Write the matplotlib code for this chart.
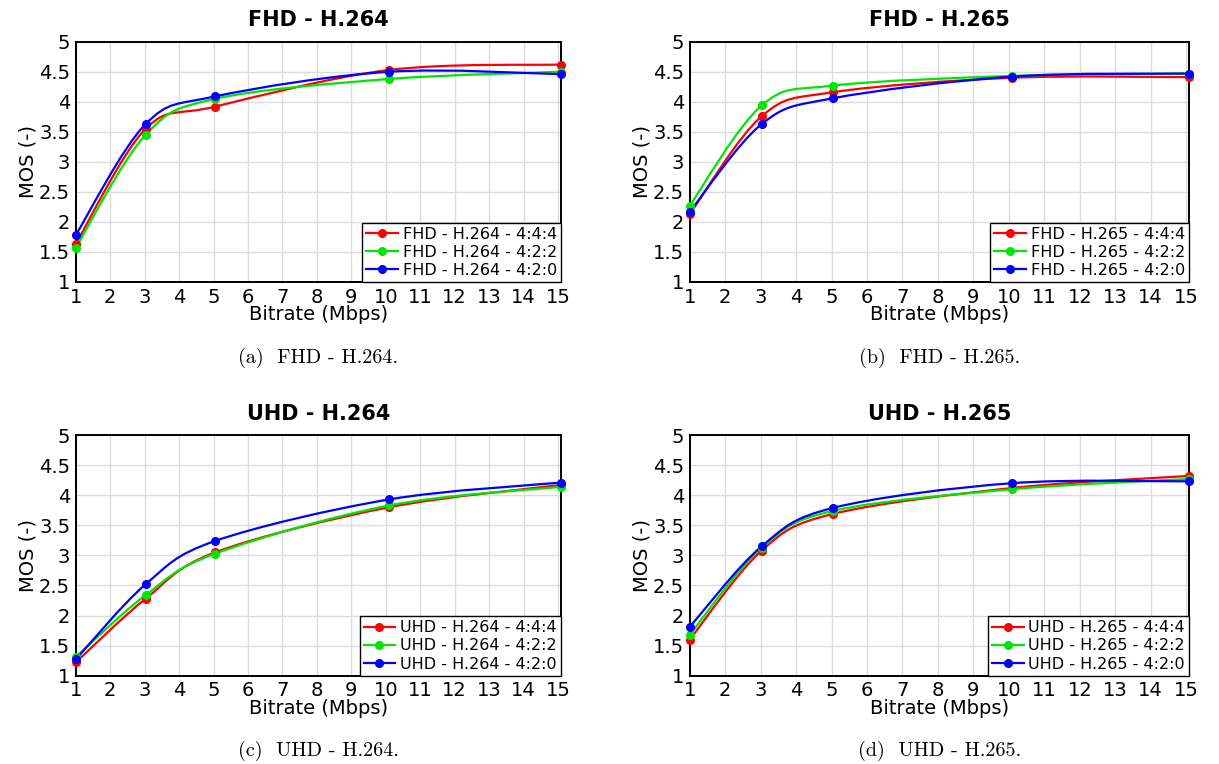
import numpy as np
import matplotlib.pyplot as plt
from matplotlib.path import Path
from matplotlib.patches import PathPatch
from matplotlib.lines import Line2D

plt.rcParams['font.family'] = 'DejaVu Sans'

# bitrate (Mbps)
bitrate = [1, 3.03, 5.05, 10.1, 15.08]
formats = ['4:4:4', '4:2:2', '4:2:0']
colors = ['#ff0000', '#00e600', '#0000ff']

panels = ['FHD - H.264', 'FHD - H.265', 'UHD - H.264', 'UHD - H.265']
captions = ['(a)  FHD - H.264.', '(b)  FHD - H.265.', '(c)  UHD - H.264.', '(d)  UHD - H.265.']

# MOS values per panel, order 4:4:4, 4:2:2, 4:2:0
fhd_264 = [[1.63, 3.55, 3.92, 4.53, 4.62],
           [1.57, 3.45, 4.05, 4.38, 4.50],
           [1.78, 3.63, 4.09, 4.50, 4.46]]
fhd_265 = [[2.13, 3.76, 4.16, 4.40, 4.41],
           [2.27, 3.94, 4.27, 4.43, 4.47],
           [2.17, 3.63, 4.06, 4.42, 4.47]]
uhd_264 = [[1.22, 2.28, 3.05, 3.80, 4.17],
           [1.31, 2.34, 3.03, 3.83, 4.14],
           [1.27, 2.52, 3.24, 3.93, 4.21]]
uhd_265 = [[1.60, 3.08, 3.69, 4.12, 4.32],
           [1.68, 3.13, 3.74, 4.10, 4.27],
           [1.81, 3.15, 3.79, 4.20, 4.23]]
mos = [fhd_264, fhd_265, uhd_264, uhd_265]


def smooth_path(x, y):
    # catmull-rom through the points, drawn as cubic bezier segments
    p = np.column_stack((x, y)).astype(float)
    pp = np.vstack((p[0], p, p[-1]))
    verts = [p[0]]
    codes = [Path.MOVETO]
    for i in range(len(p) - 1):
        p0, p1, p2, p3 = pp[i], pp[i + 1], pp[i + 2], pp[i + 3]
        c1 = p1 + (p2 - p0) / 6
        c2 = p2 - (p3 - p1) / 6
        verts += [c1, c2, p2]
        codes += [Path.CURVE4] * 3
    return Path(verts, codes)


fig = plt.figure(figsize=(12.19, 7.64), dpi=100)
pos = [[0.0621, 0.6309, 0.398, 0.3145],
       [0.5658, 0.6309, 0.4096, 0.3145],
       [0.0621, 0.1156, 0.398, 0.3150],
       [0.5658, 0.1156, 0.4096, 0.3150]]

for k in range(4):
    ax = fig.add_axes(pos[k])
    handles = []
    for j in range(3):
        path = smooth_path(bitrate, mos[k][j])
        ax.add_patch(PathPatch(path, facecolor='none', edgecolor=colors[j], lw=1.6, zorder=3))
        ax.plot(bitrate, mos[k][j], 'o', color=colors[j], ms=5.5, clip_on=False, zorder=4)
        handles.append(Line2D([], [], color=colors[j], lw=1.6, marker='o', ms=5.5,
                              label=panels[k] + ' - ' + formats[j]))
    ax.set_xlim(1, bitrate[-1])
    ax.set_ylim(1, 5)
    ax.set_xticks(np.arange(1, 16))
    ax.set_yticks(np.arange(1, 5.01, 0.5))
    ax.set_yticklabels(['1', '1.5', '2', '2.5', '3', '3.5', '4', '4.5', '5'])
    ax.tick_params(length=0, labelsize=14, pad=4)
    ax.grid(True, color='#dcdcdc', lw=1)
    ax.set_axisbelow(True)
    for s in ax.spines.values():
        s.set_linewidth(1.4)
    ax.set_title(panels[k], fontsize=15, fontweight='bold', pad=11)
    ax.set_xlabel('Bitrate (Mbps)', fontsize=14, labelpad=-1)
    ax.set_ylabel('MOS (-)', fontsize=14, labelpad=1)
    leg = ax.legend(handles=handles, loc='lower right', fontsize=11.5, fancybox=False,
                    framealpha=1, edgecolor='black', borderaxespad=0, handlelength=2.0,
                    handletextpad=0.3, borderpad=0.25, labelspacing=0.2)
    leg.get_frame().set_linewidth(1.0)
    cx = pos[k][0] + pos[k][2] / 2
    cy = pos[k][1] - 0.099
    fig.text(cx, cy, captions[k], ha='center', va='center', fontsize=14.5,
             family=['cmr10', 'DejaVu Serif'])

fig.savefig('out.png', dpi=100)
